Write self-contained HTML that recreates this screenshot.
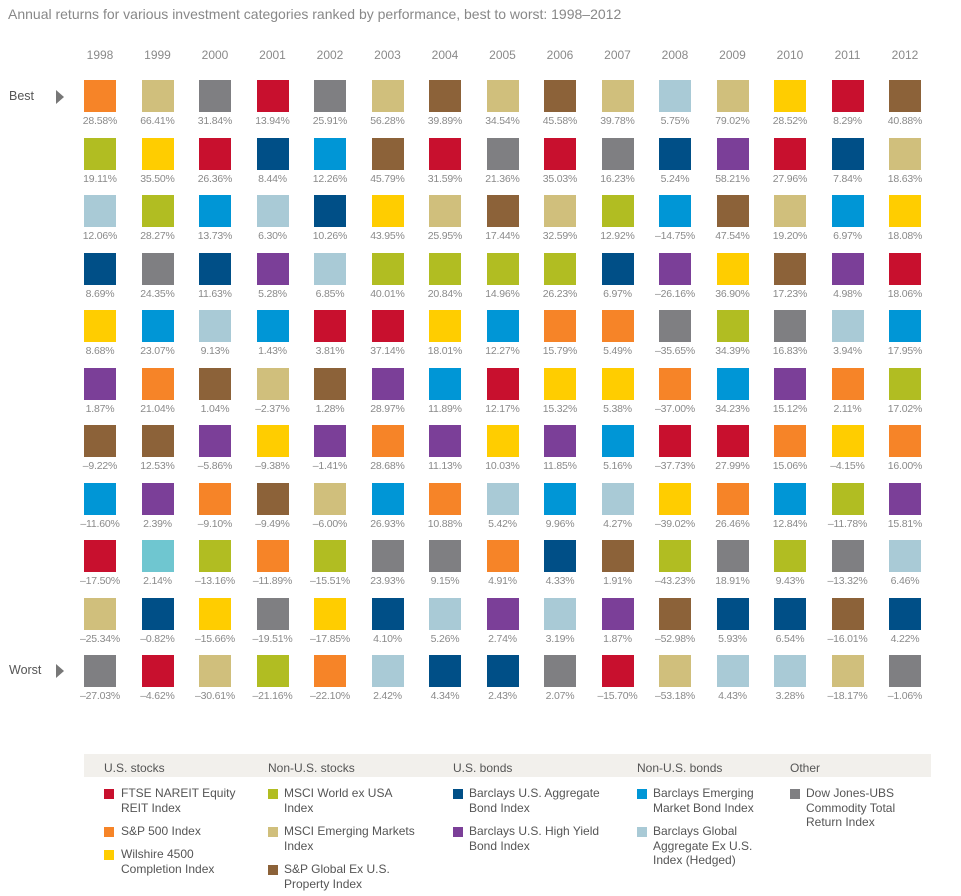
<!DOCTYPE html>
<html><head><meta charset="utf-8">
<style>
body{margin:0;background:#fff;font-family:"Liberation Sans",sans-serif;}
#wrap{position:relative;width:961px;height:896px;overflow:hidden;}
.t{position:absolute;white-space:nowrap;}
.sq{position:absolute;width:32px;height:32px;}
.val{position:absolute;width:60px;text-align:center;font-size:10.5px;color:#8a8a8a;letter-spacing:-0.2px;}
.yr{position:absolute;width:60px;text-align:center;font-size:12px;color:#8a8a8a;}
.lh{position:absolute;font-size:12px;color:#555;top:761px;}
.li{position:absolute;font-size:12px;color:#555;line-height:14.5px;}
.sw{position:absolute;width:10px;height:10px;}
</style></head><body>
<div id="wrap">
<div class="t" style="left:8px;top:6px;font-size:14px;color:#888;">Annual returns for various investment categories ranked by performance, best to worst: 1998–2012</div>
<div class="t" style="left:9px;top:89px;font-size:12.5px;color:#555;">Best</div>
<div class="t" style="left:56px;top:90px;width:0;height:0;border-top:7px solid transparent;border-bottom:7px solid transparent;border-left:8px solid #777;"></div>
<div class="t" style="left:9px;top:663px;font-size:12.5px;color:#555;">Worst</div>
<div class="t" style="left:56px;top:664px;width:0;height:0;border-top:7px solid transparent;border-bottom:7px solid transparent;border-left:8px solid #777;"></div>
<div id="grid"></div>

<div class="t" style="left:84px;top:754px;width:847px;height:23px;background:#f2f0ec;"></div>
<div class="lh" style="left:104px">U.S. stocks</div>
<div class="lh" style="left:268px">Non-U.S. stocks</div>
<div class="lh" style="left:453px">U.S. bonds</div>
<div class="lh" style="left:637px">Non-U.S. bonds</div>
<div class="lh" style="left:790px">Other</div>

<div class="sw" style="left:104px;top:789px;background:#c8102e"></div>
<div class="li" style="left:121px;top:786px">FTSE NAREIT Equity<br>REIT Index</div>
<div class="sw" style="left:104px;top:827px;background:#f68428"></div>
<div class="li" style="left:121px;top:824px">S&amp;P 500 Index</div>
<div class="sw" style="left:104px;top:850px;background:#ffcd00"></div>
<div class="li" style="left:121px;top:847px">Wilshire 4500<br>Completion Index</div>

<div class="sw" style="left:268px;top:789px;background:#b1bd22"></div>
<div class="li" style="left:284px;top:786px">MSCI World ex USA<br>Index</div>
<div class="sw" style="left:268px;top:827px;background:#d0bf7c"></div>
<div class="li" style="left:284px;top:824px">MSCI Emerging Markets<br>Index</div>
<div class="sw" style="left:268px;top:865px;background:#8c6239"></div>
<div class="li" style="left:284px;top:862px">S&amp;P Global Ex U.S.<br>Property Index</div>

<div class="sw" style="left:453px;top:789px;background:#004f87"></div>
<div class="li" style="left:469px;top:786px">Barclays U.S. Aggregate<br>Bond Index</div>
<div class="sw" style="left:453px;top:827px;background:#7b3f98"></div>
<div class="li" style="left:469px;top:824px">Barclays U.S. High Yield<br>Bond Index</div>

<div class="sw" style="left:637px;top:789px;background:#0096d6"></div>
<div class="li" style="left:653px;top:786px">Barclays Emerging<br>Market Bond Index</div>
<div class="sw" style="left:637px;top:827px;background:#a9cad6"></div>
<div class="li" style="left:653px;top:824px">Barclays Global<br>Aggregate Ex U.S.<br>Index (Hedged)</div>

<div class="sw" style="left:790px;top:789px;background:#7f7f82"></div>
<div class="li" style="left:806px;top:786px">Dow Jones-UBS<br>Commodity Total<br>Return Index</div>
</div>
<script>
const years=["1998","1999","2000","2001","2002","2003","2004","2005","2006","2007","2008","2009","2010","2011","2012"];
const cats=[
"OGLNYPBCRTK","TYGKCOBPQNR","KRCNLBPOGYT","RNLPCTYBOKG","KCNLRBPTGYO","TBYGRPOCKNL","BRTGYCPOKLN","TKBGCRYLOPN","BRTGOYPCNLK","TKGNOYCLBPR","LNCPKORYGBT","TPBYGCROKNL","YRTBKPOCGNL","RNCPLOYGKBT","BTYRCGOPLNK"];
const vals=[
[28.58,19.11,12.06,8.69,8.68,1.87,-9.22,-11.60,-17.50,-25.34,-27.03],
[66.41,35.50,28.27,24.35,23.07,21.04,12.53,2.39,2.14,-0.82,-4.62],
[31.84,26.36,13.73,11.63,9.13,1.04,-5.86,-9.10,-13.16,-15.66,-30.61],
[13.94,8.44,6.30,5.28,1.43,-2.37,-9.38,-9.49,-11.89,-19.51,-21.16],
[25.91,12.26,10.26,6.85,3.81,1.28,-1.41,-6.00,-15.51,-17.85,-22.10],
[56.28,45.79,43.95,40.01,37.14,28.97,28.68,26.93,23.93,4.10,2.42],
[39.89,31.59,25.95,20.84,18.01,11.89,11.13,10.88,9.15,5.26,4.34],
[34.54,21.36,17.44,14.96,12.27,12.17,10.03,5.42,4.91,2.74,2.43],
[45.58,35.03,32.59,26.23,15.79,15.32,11.85,9.96,4.33,3.19,2.07],
[39.78,16.23,12.92,6.97,5.49,5.38,5.16,4.27,1.91,1.87,-15.70],
[5.75,5.24,-14.75,-26.16,-35.65,-37.00,-37.73,-39.02,-43.23,-52.98,-53.18],
[79.02,58.21,47.54,36.90,34.39,34.23,27.99,26.46,18.91,5.93,4.43],
[28.52,27.96,19.20,17.23,16.83,15.12,15.06,12.84,9.43,6.54,3.28],
[8.29,7.84,6.97,4.98,3.94,2.11,-4.15,-11.78,-13.32,-16.01,-18.17],
[40.88,18.63,18.08,18.06,17.95,17.02,16.00,15.81,6.46,4.22,-1.06]];
const colorMap={R:"#c8102e",O:"#f68428",Y:"#ffcd00",G:"#b1bd22",T:"#d0bf7c",B:"#8c6239",N:"#004f87",P:"#7b3f98",C:"#0096d6",L:"#a9cad6",K:"#7f7f82",Q:"#6fc6d0"};
function xCol(i){return 100+57.5*i;}
function yRow(r){return 80+57.5*r;}
const g=document.getElementById('grid');
years.forEach((yr,i)=>{
  const d=document.createElement('div');d.className='yr';
  
  
  d.style.left=(xCol(i)-30)+'px';d.style.top='48px';d.textContent=yr;g.appendChild(d);
  vals[i].forEach((v,r)=>{
    const s=document.createElement('div');s.className='sq';
    
    
    s.style.left=(xCol(i)-16)+'px';s.style.top=yRow(r)+'px';
    s.style.background=colorMap[cats[i][r]];g.appendChild(s);
    const t=document.createElement('div');t.className='val';
    
    
    t.style.left=(xCol(i)-30)+'px';t.style.top=(yRow(r)+35)+'px';
    t.textContent=(v<0?'–':'')+Math.abs(v).toFixed(2)+'%';g.appendChild(t);
  });
});
</script>
</body></html>
